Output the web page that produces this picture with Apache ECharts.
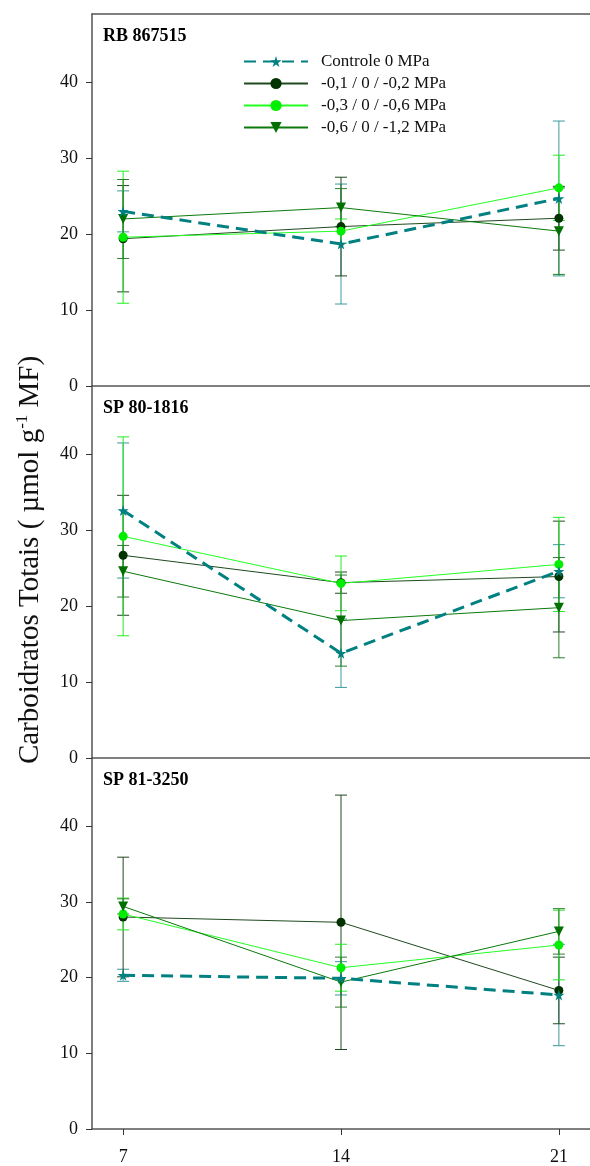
<!DOCTYPE html>
<html>
<head>
<meta charset="utf-8">
<script src="https://cdn.jsdelivr.net/npm/echarts@6/dist/echarts.min.js"></script>
<style>
  html, body { margin: 0; padding: 0; background: #fff; }
  #chart { width: 590px; height: 1166px; }
</style>
</head>
<body>
<div id="chart"></div>
<script>
const days = [7, 14, 21];
const panelTitles = ['RB 867515', 'SP 80-1816', 'SP 81-3250'];
const seriesNames = ['Controle 0 MPa', '-0,1 / 0 / -0,2 MPa', '-0,3 / 0 / -0,6 MPa', '-0,6 / 0 / -1,2 MPa'];
const yTicks = [0, 10, 20, 30, 40];

// means, one row per treatment (same order as seriesNames)
const rbMeans = [[23.0, 18.7, 24.7], [19.4, 21.0, 22.1], [19.6, 20.4, 26.1], [22.0, 23.5, 20.4]];
const rbErr = [[2.7, 7.9, 10.2], [7.0, 6.5, 4.2], [8.7, 1.6, 4.3], [5.2, 2.5, 5.7]];

const sp80Means = [[32.6, 13.8, 24.6], [26.7, 23.1, 23.9], [29.2, 23.0, 25.5], [24.6, 18.1, 19.8]];
const sp80Err = [[8.9, 4.5, 3.5], [7.9, 1.4, 7.3], [13.1, 3.6, 6.2], [3.4, 6.0, 6.6]];

const sp81Means = [[20.3, 19.9, 17.7], [28.0, 27.3, 18.3], [28.4, 21.3, 24.3], [29.4, 19.4, 26.1]];
const sp81Err = [[0.8, 2.2, 6.7], [7.9, 16.8, 4.4], [2.1, 3.1, 4.6], [1.0, 3.3, 3.0]];

const panelMeans = [rbMeans, sp80Means, sp81Means];
const panelErr = [rbErr, sp80Err, sp81Err];

const starPath = 'path://M50,0 L61,35 L98,35 L68,57 L79,91 L50,70 L21,91 L32,57 L2,35 L39,35 Z';
const styles = [
    { color: '#008080', line: '#008080', width: 3, type: [12, 7], symbol: starPath, size: 11, rotate: 0 },
    { color: '#003300', line: '#1f4a1f', width: 1, type: 'solid', symbol: 'circle', size: 9, rotate: 0 },
    { color: '#00ee00', line: '#22ff22', width: 1, type: 'solid', symbol: 'circle', size: 9, rotate: 0 },
    { color: '#007000', line: '#0b7a0b', width: 1, type: 'solid', symbol: 'triangle', size: 10, rotate: 180 }
];
const errColors = ['#3a9a9a', '#204820', '#22ee22', '#2a7f2a'];

const serif = 'Liberation Serif, Times New Roman, serif';
const panelTop = [14, 386, 758];
const panelH = 372;

function renderErr(params, api) {
    const x = api.value(0);
    const lo = api.coord([x, api.value(1)]);
    const hi = api.coord([x, api.value(2)]);
    const w = 6;
    const style = { stroke: api.visual('color'), lineWidth: 1 };
    return {
        type: 'group',
        children: [
            { type: 'line', shape: { x1: lo[0], y1: lo[1], x2: hi[0], y2: hi[1] }, style: style },
            { type: 'line', shape: { x1: hi[0] - w, y1: hi[1], x2: hi[0] + w, y2: hi[1] }, style: style },
            { type: 'line', shape: { x1: lo[0] - w, y1: lo[1], x2: lo[0] + w, y2: lo[1] }, style: style }
        ]
    };
}

const grids = [], xAxes = [], yAxes = [], series = [], titles = [];

panelTitles.forEach((t, p) => {
    grids.push({ left: 92, right: 0, top: panelTop[p], height: panelH });
    titles.push({
        text: t, left: 103, top: panelTop[p] + 13, padding: 0,
        textStyle: { fontFamily: serif, fontSize: 18, fontWeight: 'bold', color: '#000' }
    });
    const last = p === 2;
    xAxes.push({
        type: 'value', gridIndex: p, min: 6, max: 22,
        axisLine: { show: true, lineStyle: { color: '#555', width: 1.5 } },
        axisTick: { show: last, customValues: days, length: 6, inside: false, lineStyle: { color: '#333' } },
        axisLabel: { show: last, customValues: days, margin: 19, fontFamily: serif, fontSize: 18, color: '#111' },
        splitLine: { show: false }
    });
    yAxes.push({
        type: 'value', gridIndex: p, min: 0, max: 49,
        axisLine: { show: true, lineStyle: { color: '#555', width: 1.5 } },
        axisTick: { show: true, customValues: yTicks, length: 6, lineStyle: { color: '#333' } },
        axisLabel: { customValues: yTicks, margin: 14, fontFamily: serif, fontSize: 18, color: '#111' },
        splitLine: { show: false }
    });

    const means = panelMeans[p], errs = panelErr[p];
    means.forEach((row, s) => {
        series.push({
            type: 'custom', name: seriesNames[s] + ' erro',
            xAxisIndex: p, yAxisIndex: p,
            itemStyle: { color: errColors[s] },
            renderItem: renderErr,
            data: row.map((v, i) => [days[i], v - errs[s][i], v + errs[s][i]]),
            z: 2
        });
    });
    means.forEach((row, s) => {
        const st = styles[s];
        series.push({
            type: 'line', name: seriesNames[s],
            xAxisIndex: p, yAxisIndex: p,
            symbol: st.symbol, symbolSize: st.size, symbolRotate: st.rotate,
            itemStyle: { color: st.color },
            lineStyle: { color: st.line, width: st.width, type: st.type },
            data: row.map((v, i) => [days[i], v]),
            z: s === 0 ? 4 : 3
        });
    });
});

// top border of the first panel
xAxes.push({
    type: 'value', gridIndex: 0, position: 'top', min: 6, max: 22,
    axisLine: { show: true, lineStyle: { color: '#555', width: 1.5 } },
    axisTick: { show: false }, axisLabel: { show: false }, splitLine: { show: false }
});

const chart = echarts.init(document.getElementById('chart'));
chart.setOption({
    animation: false,
    backgroundColor: '#fff',
    title: titles,
    legend: {
        data: seriesNames,
        orient: 'vertical',
        left: 238, top: 48,
        itemWidth: 64, itemHeight: 14, itemGap: 5,
        selectedMode: false,
        textStyle: { fontFamily: serif, fontSize: 17, color: '#111', padding: [0, 0, 0, 8] }
    },
    graphic: [{
        type: 'text',
        x: 30, y: 560,
        rotation: Math.PI / 2,
        style: {
            text: '{a|Carboidratos Totais ( µmol g}{s|-1}{a| MF)}',
            align: 'center',
            verticalAlign: 'middle',
            rich: {
                a: { fontFamily: serif, fontSize: 29, fill: '#111' },
                s: { fontFamily: serif, fontSize: 17, fill: '#111', verticalAlign: 'top', padding: [0, 0, 14, 0] }
            }
        }
    }],
    grid: grids,
    xAxis: xAxes,
    yAxis: yAxes,
    series: series
});
</script>
</body>
</html>
